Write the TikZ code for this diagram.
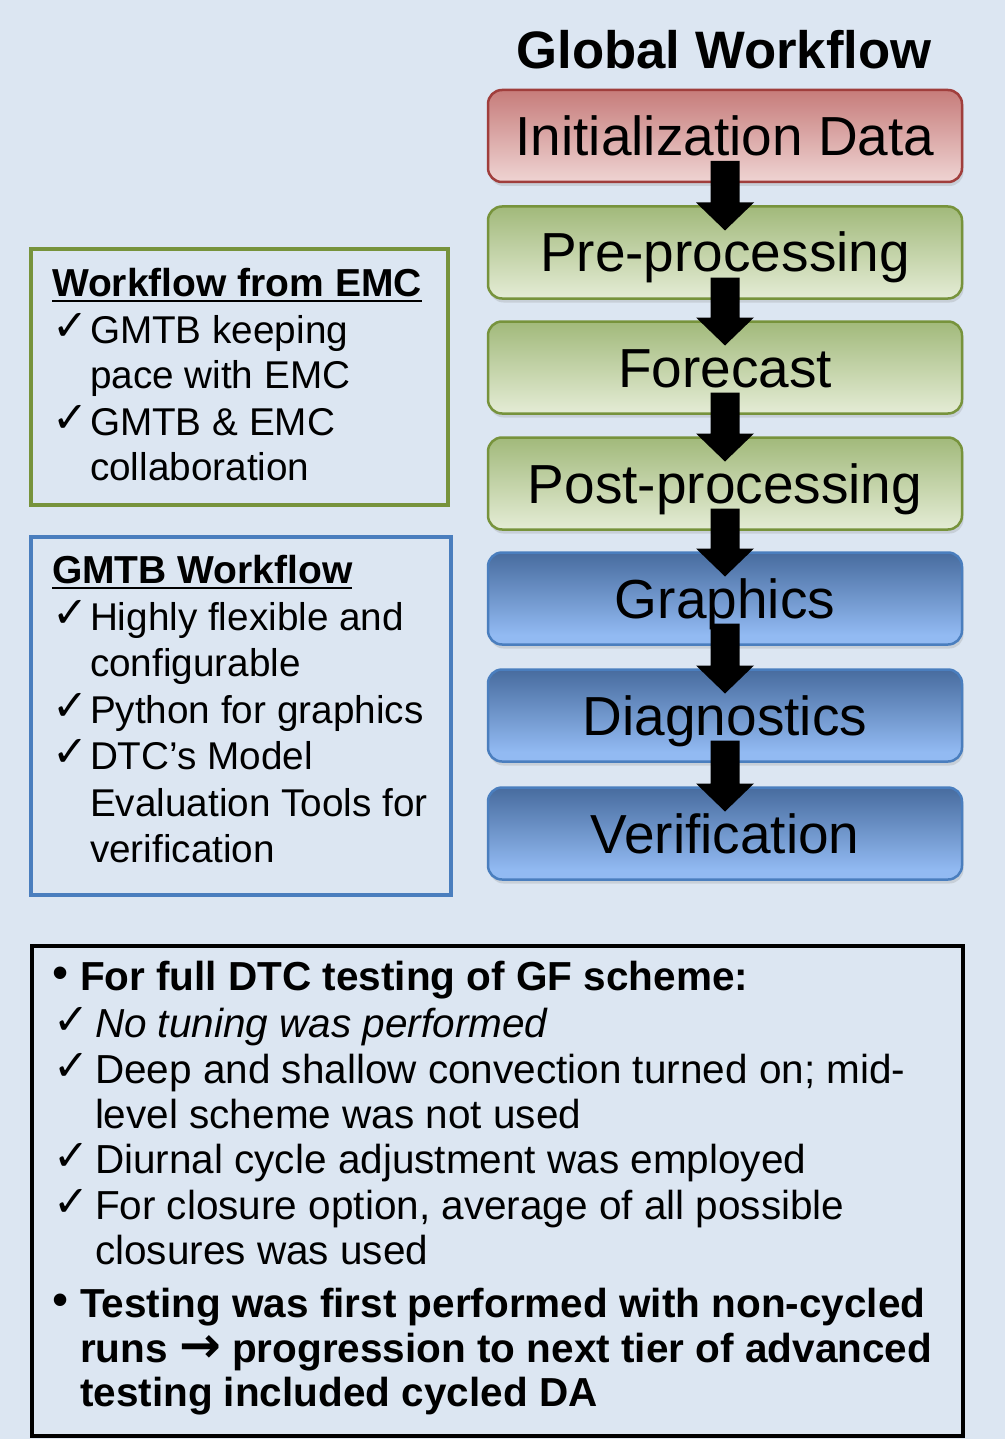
\documentclass[tikz,border=0pt]{standalone}
\usepackage{fontspec}
\setmainfont{Liberation Sans}
\newfontfamily\symfont{DejaVu Sans}
\usetikzlibrary{shadows,calc}
\definecolor{bgcol}{RGB}{220,230,242}
\definecolor{redT}{RGB}{178,80,78}
\definecolor{redB}{RGB}{243,221,220}
\definecolor{redD}{RGB}{160,62,60}
\definecolor{grnT}{RGB}{128,160,78}
\definecolor{grnB}{RGB}{235,241,222}
\definecolor{grnD}{RGB}{119,147,60}
\definecolor{bluT}{RGB}{30,64,112}
\definecolor{bluB}{RGB}{146,186,242}
\definecolor{bluD}{RGB}{74,126,190}
\pgfdeclareverticalshading{redsh}{100bp}{color(0bp)=(redB); color(20bp)=(redB); color(100bp)=(redT)}
\pgfdeclareverticalshading{grnsh}{100bp}{color(0bp)=(grnB); color(20bp)=(grnB); color(100bp)=(grnT)}
\pgfdeclareverticalshading{blush}{100bp}{color(0bp)=(bluB); color(30bp)=(bluB); color(100bp)=(bluT)}
\newcommand{\blkarrow}[2]{%
  \fill[black] ($(#1.south)+(-14.5,-21)$) -- ($(#1.south)+(14.5,-21)$)
    -- ($(#2.north)+(14.5,-4)$) -- ($(#2.north)+(29,-4)$)
    -- ($(#2.north)+(0,24)$) -- ($(#2.north)+(-29,-4)$)
    -- ($(#2.north)+(-14.5,-4)$) -- cycle;}
\newcommand{\bigarr}{{\symfont\bfseries\fontsize{50}{50}\selectfont →}}
\tikzset{
  flow/.style={rounded corners=14pt, minimum width=474pt, minimum height=92pt,
    line width=2.5pt, outer sep=0pt, inner sep=0pt, text height=39pt, text depth=0pt,
    font=\fontsize{55}{60}\selectfont,
    drop shadow={shadow xshift=1.5pt, shadow yshift=-4pt, opacity=0.22}},
  redbox/.style={flow, draw=redD, shading=redsh},
  grnbox/.style={flow, draw=grnD, shading=grnsh},
  blubox/.style={flow, draw=bluD, shading=blush},
  txt/.style={anchor=base west, inner sep=0pt, outer sep=0pt},
  ltitle/.style={txt, font=\fontsize{39}{44}\bfseries\selectfont},
  lbody/.style={txt, font=\fontsize{38.7}{44}\selectfont},
  lchk/.style={txt, font=\fontsize{43}{46}\symfont},
  bbold/.style={txt, font=\fontsize{40.5}{46}\bfseries\selectfont},
  bbody/.style={txt, font=\fontsize{40.5}{46}\selectfont},
  bital/.style={txt, font=\fontsize{40.5}{46}\itshape\selectfont},
  bchk/.style={txt, font=\fontsize{43}{46}\symfont},
  bbul/.style={txt, font=\fontsize{46}{50}\selectfont},
  uline/.style={line width=2.6pt},
}
\begin{document}
\begin{tikzpicture}[x=1pt,y=-1pt]
\fill[bgcol] (0,0) rectangle (1005,1439);
\useasboundingbox (0,0) rectangle (1005,1439);

% title
\node[anchor=base, inner sep=0pt, font=\fontsize{52.7}{58}\bfseries\selectfont] (title) at (724,69) {Global Workflow};

% flow boxes
\node[redbox] (init) at (725,136) {Initialization Data};
\node[grnbox] (pre)  at (725,252.5) {Pre-processing};
\node[grnbox] (fc)   at (725,367.5) {Forecast};
\node[grnbox] (post) at (725,483.5) {Post-processing};
\node[blubox] (gr)   at (725,598.5) {Graphics};
\node[blubox] (diag) at (725,715.5) {Diagnostics};
\node[blubox] (ver)  at (725,833.5) {Verification};

\blkarrow{init}{pre}
\blkarrow{pre}{fc}
\blkarrow{fc}{post}
\blkarrow{post}{gr}
\blkarrow{gr}{diag}
\blkarrow{diag}{ver}

% Workflow from EMC box
\draw[grnD, line width=4pt] (31,249) rectangle (448,505);
\node[ltitle] (e0) at (52,296) {Workflow from EMC};
\draw[uline] ($(e0.base west)+(0,5)$) -- ($(e0.base east)+(0,5)$);
\node[lchk] (ec1) at (52,340) {✓};
\node[lbody] (e1) at (90,343) {GMTB keeping};
\node[lbody] (e2) at (90,388) {pace with EMC};
\node[lchk] (ec2) at (52,432) {✓};
\node[lbody] (e3) at (90,435) {GMTB \& EMC};
\node[lbody] (e4) at (90,480) {collaboration};

% GMTB Workflow box
\draw[bluD, line width=4pt] (31,537) rectangle (451,895);
\node[ltitle] (g0) at (52,583) {GMTB Workflow};
\draw[uline] ($(g0.base west)+(0,5)$) -- ($(g0.base east)+(0,5)$);
\node[lchk] (gc1) at (52,627) {✓};
\node[lbody] (g1) at (90,630) {Highly flexible and};
\node[lbody] (g2) at (90,676) {configurable};
\node[lchk] (gc2) at (52,720) {✓};
\node[lbody] (g3) at (90,723) {Python for graphics};
\node[lchk] (gc3) at (52,766) {✓};
\node[lbody] (g4) at (90,769) {DTC’s Model};
\node[lbody] (g5) at (90,816) {Evaluation Tools for};
\node[lbody] (g6) at (90,862) {verification};

% bottom box
\draw[black, line width=4pt] (32,946) rectangle (963,1436);
\node[bbul] (bu1) at (52,988) {•};
\node[bbold] (t1) at (80,990) {For full DTC testing of GF scheme:};
\node[bchk] (c1) at (53,1034) {✓};
\node[bital] (t2) at (95,1037) {No tuning was performed};
\node[bchk] (c2) at (53,1080) {✓};
\node[bbody] (t3) at (95,1083) {Deep and shallow convection turned on; mid-};
\node[bbody] (t4) at (95,1128) {level scheme was not used};
\node[bchk] (c3) at (53,1170) {✓};
\node[bbody] (t5) at (95,1173) {Diurnal cycle adjustment was employed};
\node[bchk] (c4) at (53,1216) {✓};
\node[bbody] (t6) at (95,1219) {For closure option, average of all possible};
\node[bbody] (t7) at (95,1264) {closures was used};
\node[bbul] (bu2) at (52,1315) {•};
\node[bbold] (t8) at (80,1317) {Testing was first performed with non-cycled};
\node[bbold] (t9) at (80,1362) {runs \bigarr{} progression to next tier of advanced};
\node[bbold] (t10) at (80,1406) {testing included cycled DA};
\end{tikzpicture}
\end{document}
